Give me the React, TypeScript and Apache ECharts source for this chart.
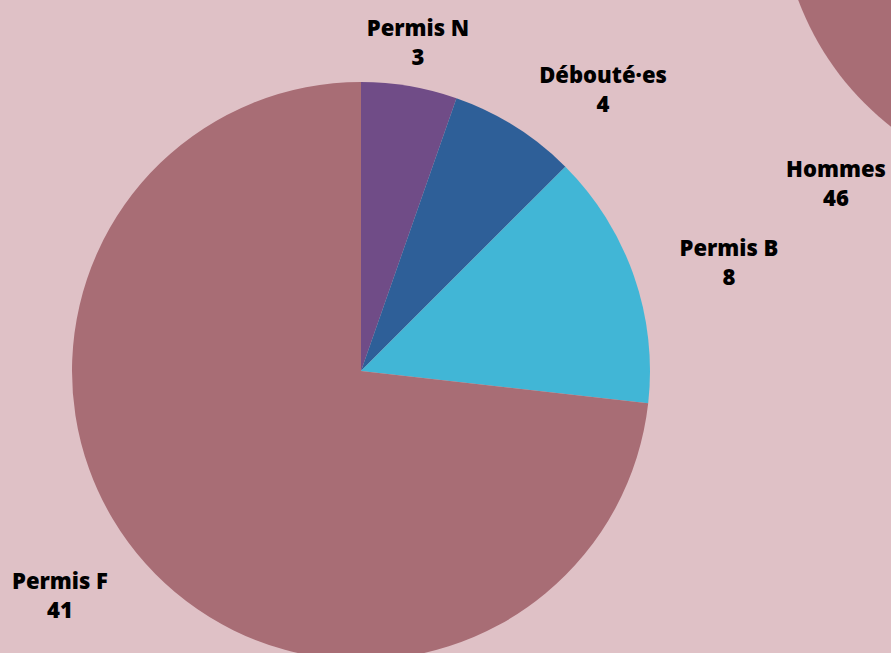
import React, { useEffect, useRef } from "react";
import * as echarts from "echarts";

const categories = ["Permis N", "Débouté·es", "Permis B", "Permis F"];
const values = [3, 4, 8, 41];
const colors = ["#704c87", "#2e5f98", "#41b6d6", "#a86d75"];

const genderCategories = ["Hommes"];
const genderValues = [46];
const genderColors = ["#a86d75"];

// label anchor points (px) for the hand-placed labels
const mainLabelPos = [
  [418, 41],
  [603, 88],
  [729, 261],
  [60, 594],
];
const genderLabelPos = [[836, 182]];

export default function App() {
  const ref = useRef<HTMLDivElement>(null);
  useEffect(() => {
    document.body.style.margin = "0";
    const chart = echarts.init(ref.current!, null, { renderer: "svg" });
    const labelStyle = {
      show: true,
      position: "outside",
      formatter: "{b}\n{c}",
      fontFamily: "Open Sans",
      fontWeight: 800,
      fontSize: 22,
      lineHeight: 29,
      color: "#000",
      align: "center",
      overflow: "none",
      bleedMargin: 0,
    };
    chart.setOption({
      animation: false,
      backgroundColor: "#dfc1c6",
      series: [
        {
          type: "pie",
          center: [361, 371],
          radius: 289,
          startAngle: 90,
          clockwise: true,
          label: labelStyle,
          labelLine: { show: false },
          labelLayout: (p: any) => ({
            x: mainLabelPos[p.dataIndex][0],
            y: mainLabelPos[p.dataIndex][1],
            align: "center",
            verticalAlign: "middle",
          }),
          emphasis: { disabled: true },
          data: categories.map((name, i) => ({
            name,
            value: values[i],
            itemStyle: { color: colors[i] },
          })),
        },
        {
          type: "pie",
          center: [1069, -101],
          radius: 289,
          startAngle: 90,
          label: labelStyle,
          labelLine: { show: false },
          labelLayout: (p: any) => ({
            x: genderLabelPos[p.dataIndex][0],
            y: genderLabelPos[p.dataIndex][1],
            align: "center",
            verticalAlign: "middle",
          }),
          emphasis: { disabled: true },
          data: genderCategories.map((name, i) => ({
            name,
            value: genderValues[i],
            itemStyle: { color: genderColors[i] },
          })),
        },
      ],
    });
    return () => chart.dispose();
  }, []);
  return <div ref={ref} style={{ width: 891, height: 653 }} />;
}
